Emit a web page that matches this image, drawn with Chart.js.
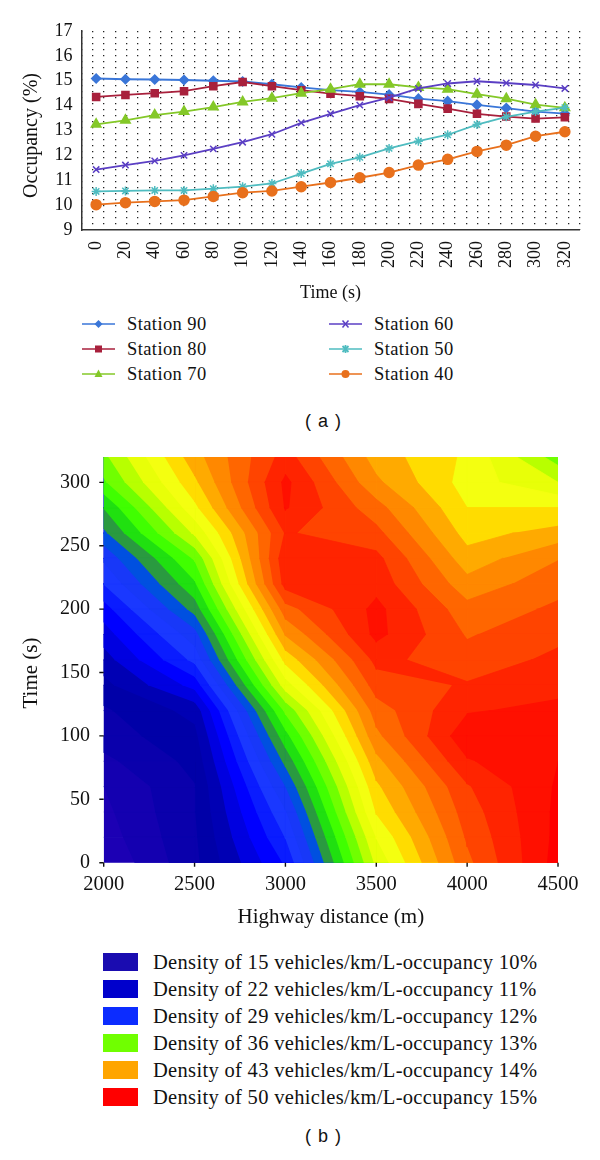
<!DOCTYPE html>
<html>
<head>
<meta charset="utf-8">
<script src="https://cdn.jsdelivr.net/npm/chart.js@4/dist/chart.umd.min.js"></script>
<style>
  html, body { margin: 0; padding: 0; background: #fff; }
  #page { position: relative; width: 600px; height: 1160px; overflow: hidden; font-family: "Liberation Serif", serif; color: #111; }
  canvas { position: absolute; left: 0; }
  .item { position: absolute; white-space: nowrap; }
  .panel { position: absolute; font-family: "Liberation Sans", sans-serif; font-size: 18px; word-spacing: 2px; }
  .swatch { position: absolute; left: 103px; width: 35px; height: 18px; }
</style>
</head>
<body>
<div id="page">
  <canvas id="lines" style="top:0;width:600px;height:310px"></canvas>
  <canvas id="contour" style="top:440px;width:600px;height:490px"></canvas>
  <div class="panel" style="left:305px;top:411px">( a )</div>
  <div class="panel" style="left:305px;top:1126px">( b )</div>
</div>
<script>
// ===== Panel (a) data =====
const times = ["0", "20", "40", "60", "80", "100", "120", "140", "160", "180", "200", "220", "240", "260", "280", "300", "320"];
const station90 = [15.09, 15.06, 15.05, 15.03, 15.0, 14.97, 14.86, 14.73, 14.62, 14.55, 14.44, 14.28, 14.18, 14.03, 13.9, 13.76, 13.68];
const station80 = [14.35, 14.43, 14.5, 14.58, 14.78, 14.95, 14.78, 14.62, 14.48, 14.38, 14.27, 14.07, 13.88, 13.67, 13.56, 13.48, 13.53];
const station70 = [13.25, 13.41, 13.62, 13.76, 13.94, 14.15, 14.3, 14.5, 14.66, 14.86, 14.86, 14.73, 14.66, 14.46, 14.28, 14.04, 13.91];
const station60 = [11.43, 11.61, 11.78, 12.0, 12.26, 12.53, 12.85, 13.31, 13.67, 14.02, 14.32, 14.69, 14.89, 14.98, 14.91, 14.83, 14.69];
const station50 = [10.55, 10.57, 10.59, 10.59, 10.66, 10.74, 10.87, 11.27, 11.66, 11.92, 12.28, 12.57, 12.83, 13.24, 13.55, 13.76, 13.92];
const station40 = [10.02, 10.1, 10.15, 10.2, 10.35, 10.5, 10.57, 10.74, 10.91, 11.1, 11.31, 11.61, 11.84, 12.16, 12.41, 12.77, 12.95];

// ===== Panel (b) data: occupancy per station along the highway =====
// columns 3000, 4000 and 4500, they differ a little from panel (a)
const distances = [2000, 2500, 3000, 3500, 4000, 4500];
const gridTimes = [0, 20, 40, 60, 80, 100, 120, 140, 160, 180, 200, 220, 240, 260, 280, 300, 320];
const contour3000 = [11.43, 11.61, 11.78, 12.0, 12.26, 12.53, 12.85, 13.31, 13.67, 14.02, 14.32, 14.69, 14.75, 14.62, 14.82, 14.85, 14.69];
const contour4000 = [14.35, 14.43, 14.5, 14.58, 14.78, 14.95, 14.78, 14.62, 14.48, 14.38, 14.27, 14.07, 13.88, 13.72, 13.6, 13.51, 13.56];
const contour4500 = [15.09, 15.06, 15.05, 15.03, 15.0, 14.97, 14.86, 14.73, 14.65, 14.55, 14.44, 14.33, 14.19, 13.88, 13.6, 13.2, 12.9];
const occupancyRows = [station40, station50, contour3000, station70, contour4000, contour4500];
const bandLevels = [10.0, 10.2, 10.4, 10.6, 10.8, 11.0, 11.2, 11.4, 11.6, 11.8, 12.0, 12.2, 12.4, 12.6, 12.8, 13.0, 13.2, 13.4, 13.6, 13.8, 14.0, 14.2, 14.4, 14.6, 14.8, 15.0];
const bandColors = ["#1c00b4", "#1400b0", "#0a00ac", "#0000a8", "#0000b4", "#0000e0", "#0000ff", "#0a1cff", "#1a38ff", "#1838f8", "#0050e0", "#2a9a40", "#20e010", "#40ff00", "#70ff00", "#b8ff00", "#e8ff08", "#f4ff10", "#ffdc00", "#ffaa00", "#ff8800", "#ff6600", "#ff4400", "#ff2400", "#ff1000", "#ff0000"];
const legendLabels = [
  "Density of 15 vehicles/km/L-occupancy 10%",
  "Density of 22 vehicles/km/L-occupancy 11%",
  "Density of 29 vehicles/km/L-occupancy 12%",
  "Density of 36 vehicles/km/L-occupancy 13%",
  "Density of 43 vehicles/km/L-occupancy 14%",
  "Density of 50 vehicles/km/L-occupancy 15%"
];
const legendColors = ["#1a0cb0", "#0000cc", "#0c2cff", "#70ff00", "#ffa500", "#ff0000"];

const serif = "'Liberation Serif', serif";
const ink = "#111";
const page = document.getElementById("page");

function fixCanvas(id) {
  const canvas = document.getElementById(id);
  canvas.width = parseInt(canvas.style.width);
  canvas.height = parseInt(canvas.style.height);
  return canvas;
}

// ===== Line chart =====
const seriesStyles = [
  { label: "Station 90", data: station90, color: "#3a76d8", pointStyle: "rectRot", radius: 4.5 },
  { label: "Station 80", data: station80, color: "#a8203c", pointStyle: "rect", radius: 5 },
  { label: "Station 70", data: station70, color: "#84c828", pointStyle: "triangle", radius: 5.5 },
  { label: "Station 60", data: station60, color: "#5b3fc4", pointStyle: "crossRot", radius: 4.5 },
  { label: "Station 50", data: station50, color: "#4fbcc0", pointStyle: "star", radius: 4.5 },
  { label: "Station 40", data: station40, color: "#e8701c", pointStyle: "circle", radius: 5 }
];

new Chart(fixCanvas("lines"), {
  type: "line",
  data: {
    labels: times,
    datasets: seriesStyles.map((s, i) => ({
      label: s.label,
      data: s.data,
      order: seriesStyles.length - i, // later stations on top
      borderColor: s.color,
      backgroundColor: s.color,
      pointBorderColor: s.color,
      pointBackgroundColor: s.color,
      pointStyle: s.pointStyle,
      pointRadius: s.radius,
      pointBorderWidth: 1.5,
      borderWidth: 1.8,
      tension: 0
    }))
  },
  options: {
    responsive: false,
    animation: false,
    layout: { padding: { top: 31, right: 20.5, left: 0, bottom: 6 } },
    plugins: { legend: { display: false }, tooltip: { enabled: false } },
    scales: {
      x: {
        offset: true,
        grid: { display: false, tickLength: 0 },
        border: { color: "#333", width: 1.5 },
        ticks: { color: ink, font: { family: serif, size: 18 }, minRotation: 90, maxRotation: 90, padding: 11, autoSkip: false },
        title: { display: true, text: "Time (s)", color: ink, font: { family: serif, size: 18 }, padding: { top: 4, bottom: 0 } },
        afterFit: scale => { scale.height = 74; }
      },
      dotsX: {
        type: "linear", position: "top", min: 0, max: 44,
        ticks: { display: false, stepSize: 1 },
        border: { display: false, dash: [1.3, 4.7] },
        grid: { color: "#222", lineWidth: 1.3, drawTicks: false },
        afterFit: scale => { scale.height = 0; }
      },
      y: {
        min: 9, max: 17,
        grid: { display: false, tickLength: 0 },
        border: { color: "#333", width: 1.5 },
        ticks: { stepSize: 1, color: ink, font: { family: serif, size: 18 }, padding: 9 },
        title: { display: true, text: "Occupancy (%)  ", color: ink, font: { family: serif, size: 20 }, padding: { top: 20, bottom: 0 } },
        afterFit: scale => { scale.width = 81.5; }
      }
    }
  }
});

// ===== Contour chart =====
// Part of one grid cell at or above a level, cut along its edges
function clipCell(corners, level) {
  const out = [];
  corners.forEach((a, i) => {
    const b = corners[(i + 1) % corners.length];
    if (a.z >= level) out.push({ x: a.x, y: a.y });
    if ((a.z >= level) !== (b.z >= level)) {
      const f = (level - a.z) / (b.z - a.z);
      out.push({ x: a.x + f * (b.x - a.x), y: a.y + f * (b.y - a.y) });
    }
  });
  return out;
}

function levelShapes(level) {
  const points = [];
  for (let i = 0; i < distances.length - 1; i++) {
    for (let j = 0; j < gridTimes.length - 1; j++) {
      const corners = [
        { x: distances[i], y: gridTimes[j], z: occupancyRows[i][j] },
        { x: distances[i + 1], y: gridTimes[j], z: occupancyRows[i + 1][j] },
        { x: distances[i + 1], y: gridTimes[j + 1], z: occupancyRows[i + 1][j + 1] },
        { x: distances[i], y: gridTimes[j + 1], z: occupancyRows[i][j + 1] }
      ];
      const shape = level === bandLevels[0] ? corners.map(c => ({ x: c.x, y: c.y })) : clipCell(corners, level);
      if (shape.length > 2) {
        points.push(...shape, { x: NaN, y: NaN });
      }
    }
  }
  return points;
}

new Chart(fixCanvas("contour"), {
  type: "scatter",
  data: {
    datasets: bandLevels.map((level, i) => ({
      data: levelShapes(level),
      order: bandLevels.length - i, // higher bands painted over lower ones
      showLine: true,
      spanGaps: false,
      fill: "shape",
      backgroundColor: bandColors[i],
      borderColor: bandColors[i],
      borderWidth: 0.8,
      pointRadius: 0,
      tension: 0
    }))
  },
  options: {
    responsive: false,
    animation: false,
    layout: { padding: { top: 17, right: 42, left: 0, bottom: 0 } },
    plugins: { legend: { display: false }, tooltip: { enabled: false } },
    scales: {
      x: {
        type: "linear", min: 2000, max: 4500,
        grid: { display: false, tickLength: 0 },
        border: { display: false },
        ticks: { stepSize: 500, color: ink, font: { family: serif, size: 20.5 }, padding: 10, maxRotation: 0, callback: v => String(v) },
        title: { display: true, text: "Highway distance (m)", color: ink, font: { family: serif, size: 21 }, padding: { top: 4, bottom: 0 } },
        afterFit: scale => { scale.height = 67.3; }
      },
      y: {
        type: "linear", min: 0, max: 320,
        grid: { display: false, tickLength: 0 },
        border: { display: false },
        afterBuildTicks: scale => { scale.ticks = scale.ticks.filter(t => t.value <= 300); },
        ticks: { stepSize: 50, color: ink, font: { family: serif, size: 20 }, padding: 13.7 },
        title: { display: true, text: "Time (s)     ", color: ink, font: { family: serif, size: 21 }, padding: { top: 19, bottom: 0 } },
        afterFit: scale => { scale.width = 103.7; scale.paddingTop = 0; }
      }
    }
  },
  plugins: [{
    // short black tick marks round the filled plot, on the scale positions
    id: "tickMarks",
    afterDatasetsDraw(chart) {
      const { ctx, scales: { x, y } } = chart;
      ctx.save();
      ctx.strokeStyle = ink;
      ctx.lineWidth = 1.4;
      ctx.beginPath();
      x.ticks.forEach(t => {
        const px = x.getPixelForValue(t.value);
        ctx.moveTo(px, y.bottom);
        ctx.lineTo(px, y.bottom + 4);
      });
      y.ticks.forEach(t => {
        const py = y.getPixelForValue(t.value);
        ctx.moveTo(x.left, py);
        ctx.lineTo(x.left - 4.4, py);
      });
      ctx.stroke();
      ctx.restore();
    }
  }]
});

// ===== Legends =====
function markerSvg(s) {
  const c = s.color;
  const m = {
    rectRot: `<path d="M16.5 7 L20.5 11 L16.5 15 L12.5 11 Z" fill="${c}"/>`,
    rect: `<rect x="13" y="7.5" width="7" height="7" fill="${c}"/>`,
    triangle: `<path d="M16.5 6.5 L20.5 14 L12.5 14 Z" fill="${c}"/>`,
    crossRot: `<path d="M13.5 7.5 L19.5 14.5 M19.5 7.5 L13.5 14.5" stroke="${c}" stroke-width="1.5"/>`,
    star: `<path d="M13.5 8 L19.5 14 M19.5 8 L13.5 14 M16.5 7 L16.5 15" stroke="${c}" stroke-width="1.8"/>`,
    circle: `<circle cx="16.5" cy="11" r="4" fill="${c}"/>`
  }[s.pointStyle];
  return `<svg width="33" height="22"><path d="M0 11 H33" stroke="${c}" stroke-width="1.6"/>${m}</svg>`;
}

seriesStyles.forEach((s, i) => {
  const left = i < 3 ? 82 : 329;
  const top = 313 + (i % 3) * 25;
  const sample = document.createElement("div");
  sample.className = "item";
  sample.style.cssText = `left:${left}px;top:${top}px;height:22px`;
  sample.innerHTML = markerSvg(s);
  page.appendChild(sample);
  const text = document.createElement("div");
  text.className = "item";
  text.style.cssText = `left:${left + 45}px;top:${top}px;font-size:18.5px;line-height:22px;letter-spacing:0.4px`;
  text.textContent = s.label;
  page.appendChild(text);
});

legendLabels.forEach((label, i) => {
  const top = 953 + i * 27;
  const swatch = document.createElement("div");
  swatch.className = "swatch";
  swatch.style.cssText = `top:${top}px;background:${legendColors[i]}`;
  page.appendChild(swatch);
  const text = document.createElement("div");
  text.className = "item";
  text.style.cssText = `left:153px;top:${top - 2}px;font-size:20.5px;line-height:22px;letter-spacing:0.32px`;
  text.textContent = label;
  page.appendChild(text);
});
</script>
</body>
</html>
